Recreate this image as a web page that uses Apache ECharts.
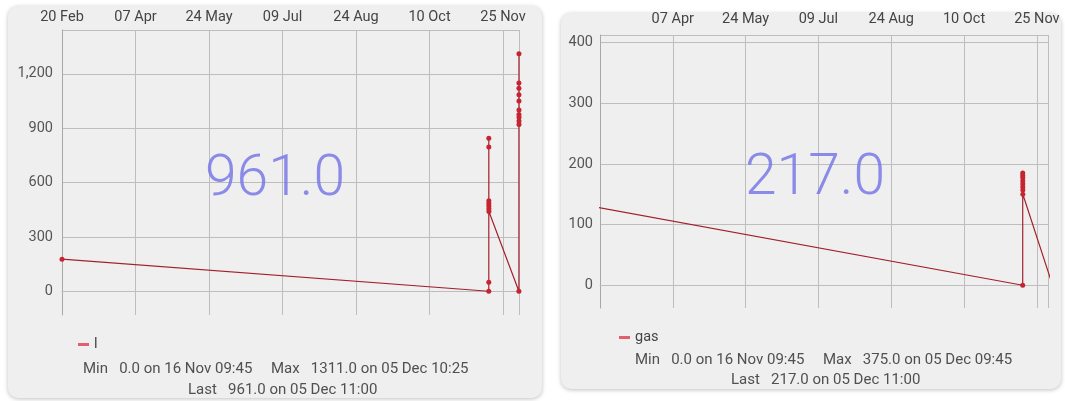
<!DOCTYPE html>
<html>
<head>
<meta charset="utf-8">
<script src="https://cdn.jsdelivr.net/npm/echarts@6/dist/echarts.min.js"></script>
<style>
  html, body { margin: 0; padding: 0; background: #fff; }
  #chart { width: 1065px; height: 401px; }
</style>
</head>
<body>
<div id="chart"></div>
<script>
// series "l"
const lTimes = [
  '2023-02-20 09:45',
  '2023-11-16 09:45', '2023-11-16 10:00', '2023-11-16 10:15', '2023-11-16 10:30',
  '2023-11-16 10:45', '2023-11-16 11:00', '2023-11-16 11:15', '2023-11-16 11:30',
  '2023-11-16 11:45',
  '2023-12-05 09:30', '2023-12-05 09:45', '2023-12-05 09:55', '2023-12-05 10:05',
  '2023-12-05 10:15', '2023-12-05 10:25', '2023-12-05 10:35', '2023-12-05 10:45',
  '2023-12-05 10:50', '2023-12-05 10:55', '2023-12-05 11:00'
]
const lValues = [
  177,
  0, 50, 845, 796, 500, 485, 470, 455,
  440,
  0, 1150, 1120, 1085, 1050, 1311, 1000, 975, 940, 920, 961
]

// series "gas"
const gasTimes = [
  '2023-02-19 09:45',
  '2023-11-16 09:45', '2023-11-16 10:00', '2023-11-16 10:15', '2023-11-16 10:30',
  '2023-11-16 10:45', '2023-11-16 11:00', '2023-11-16 11:15', '2023-11-16 11:30',
  '2023-11-16 11:45',
  '2023-12-05 09:30', '2023-12-05 09:45', '2023-12-05 10:15', '2023-12-05 10:45',
  '2023-12-05 11:00'
]
const gasValues = [
  128,
  0, 185, 181, 177, 172, 167, 162, 157,
  150,
  0, 375, 290, 240, 217
]

const lStats = ['Min   0.0 on 16 Nov 09:45     Max   1311.0 on 05 Dec 10:25', 'Last   961.0 on 05 Dec 11:00']
const gasStats = ['Min   0.0 on 16 Nov 09:45     Max   375.0 on 05 Dec 09:45', 'Last   217.0 on 05 Dec 11:00']
const lLast = '961.0'
const gasLast = '217.0'

const DAY = 86400000
const ts = s => Date.parse(s.replace(' ', 'T') + ':00Z')
const months = ['Jan', 'Feb', 'Mar', 'Apr', 'May', 'Jun', 'Jul', 'Aug', 'Sep', 'Oct', 'Nov', 'Dec']
const fmtDay = v => {
  const d = new Date(v)
  return String(d.getUTCDate()).padStart(2, '0') + ' ' + months[d.getUTCMonth()]
}

const FONT = 'Roboto, "Noto Sans", sans-serif'
const FS = 14.5
const gridColor = '#bdbdbd'
const lineColor = '#a3202c'
const dotColor = '#c62430'

function xAxisFor(gridIndex, min, max, showMin, margin) {
  return {
    type: 'value',
    gridIndex,
    position: 'top',
    min,
    max,
    interval: DAY * 278 / 6,
    axisLine: { show: true, lineStyle: { color: gridColor } },
    axisTick: { show: false },
    axisLabel: {
      formatter: fmtDay,
      color: '#444',
      fontSize: FS,
      fontFamily: FONT,
      margin,
      showMinLabel: showMin,
      showMaxLabel: false
    },
    splitLine: { show: true, lineStyle: { color: gridColor, width: 1 } }
  }
}

function yAxisFor(gridIndex, min, max, margin) {
  return {
    type: 'value',
    gridIndex,
    min,
    max,
    splitNumber: 5,
    axisLine: { show: true, lineStyle: { color: '#a8a8a8' } },
    axisTick: { show: false },
    axisLabel: {
      color: '#555',
      fontSize: FS,
      fontFamily: FONT,
      margin,
      showMinLabel: false,
      showMaxLabel: false
    },
    splitLine: { show: true, showMinLine: false, lineStyle: { color: gridColor, width: 1 } }
  }
}

function seriesFor(name, idx, times, values) {
  return {
    name,
    type: 'line',
    xAxisIndex: idx,
    yAxisIndex: idx,
    data: times.map((t, i) => [ts(t), values[i]]),
    symbol: 'circle',
    symbolSize: 5,
    clip: true,
    animation: false,
    lineStyle: { color: lineColor, width: 1.2 },
    itemStyle: { color: dotColor }
  }
}

function bigText(x, y, text) {
  return {
    type: 'text', x, y, z: 10,
    style: {
      text, fill: 'rgba(120,120,230,0.85)', font: '300 57px ' + FONT,
      align: 'center', verticalAlign: 'middle'
    }
  }
}

function statText(x, y, text) {
  return {
    type: 'text', x, y, z: 10,
    style: { text, fill: '#505050', font: '15px ' + FONT, align: 'left', verticalAlign: 'middle' }
  }
}

function legendFor(name, left, top) {
  return {
    left, top,
    data: [{ name, icon: 'rect' }],
    itemWidth: 11,
    itemHeight: 3,
    itemGap: 6,
    itemStyle: { color: '#e0606e' },
    textStyle: { color: '#444', fontSize: FS, fontFamily: FONT },
    selectedMode: false
  }
}

const chart = echarts.init(document.getElementById('chart'), null, { renderer: 'canvas' })

chart.setOption({
  animation: false,
  backgroundColor: '#fff',
  graphic: [
    {
      type: 'rect', z: -10,
      shape: { x: 8, y: 6, width: 534, height: 392, r: 10 },
      style: { fill: '#efefef', shadowBlur: 4, shadowColor: 'rgba(0,0,0,0.25)', shadowOffsetY: 1 }
    },
    {
      type: 'rect', z: -10,
      shape: { x: 561, y: 13, width: 500, height: 376, r: 10 },
      style: { fill: '#efefef', shadowBlur: 4, shadowColor: 'rgba(0,0,0,0.25)', shadowOffsetY: 1 }
    },
    bigText(275, 181, lLast),
    bigText(815, 180, gasLast),
    statText(83, 369, lStats[0]),
    statText(188, 390, lStats[1]),
    statText(635, 360, gasStats[0]),
    statText(731, 380, gasStats[1])
  ],
  legend: [
    legendFor('l', 73, 332),
    legendFor('gas', 614, 325)
  ],
  grid: [
    { left: 62, top: 30, width: 457, height: 285 },
    { left: 600, top: 35, width: 448, height: 273 }
  ],
  xAxis: [
    xAxisFor(0, ts('2023-02-20 09:45'), ts('2023-12-05 11:00'), true, 5),
    xAxisFor(1, ts('2023-02-20 09:45'), ts('2023-12-02 12:00'), false, 8)
  ],
  yAxis: [
    yAxisFor(0, -131.1, 1442.1, 9),
    yAxisFor(1, -37.5, 412.5, 7)
  ],
  series: [
    seriesFor('l', 0, lTimes, lValues),
    seriesFor('gas', 1, gasTimes, gasValues)
  ]
})
</script>
</body>
</html>
